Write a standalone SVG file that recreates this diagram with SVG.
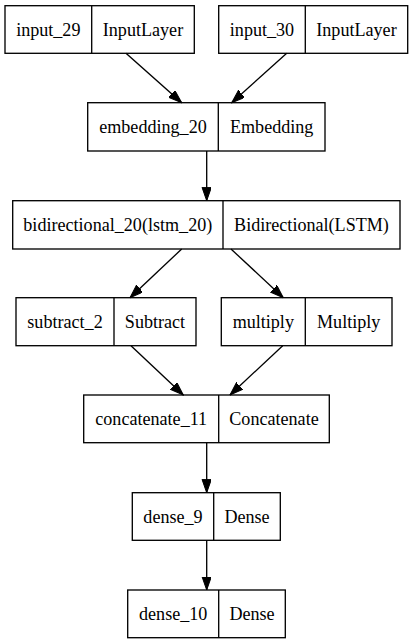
<svg xmlns="http://www.w3.org/2000/svg" width="413" height="644" viewBox="0 0 413 644">
<style>
.b{fill:none;stroke:#000;stroke-width:1.33}
.t{font-family:"Liberation Serif","Times New Roman",serif;font-size:18.1px;fill:#000;text-anchor:middle}
.e{fill:none;stroke:#000;stroke-width:1.33}
</style>
<defs>
<marker id="a" markerUnits="userSpaceOnUse" markerWidth="14" markerHeight="10" refX="13.3" refY="4.67" orient="auto" viewBox="0 0 14 10">
<path d="M0,0 L13.3,4.67 L0,9.33 z" fill="#000" stroke="#000" stroke-width="1"/>
</marker>
</defs>
<rect width="413" height="644" fill="#fff"/>
<g id="input_29">
<rect class="b" x="5" y="5.7" width="189.3" height="47.6"/>
<line class="b" x1="91.7" y1="5.7" x2="91.7" y2="53.3"/>
<text class="t" x="48.3" y="35.7">input_29</text>
<text class="t" x="143" y="35.7">InputLayer</text>
</g>
<g id="input_30">
<rect class="b" x="218.7" y="5.7" width="189" height="47.6"/>
<line class="b" x1="305.3" y1="5.7" x2="305.3" y2="53.3"/>
<text class="t" x="262" y="35.7">input_30</text>
<text class="t" x="356.5" y="35.7">InputLayer</text>
</g>
<g id="embedding_20">
<rect class="b" x="87.7" y="102.7" width="237.3" height="48.3"/>
<line class="b" x1="218.3" y1="102.7" x2="218.3" y2="151"/>
<text class="t" x="153" y="132.8">embedding_20</text>
<text class="t" x="271.7" y="132.8">Embedding</text>
</g>
<g id="bidirectional_20">
<rect class="b" x="12.7" y="200.7" width="387.3" height="48.3"/>
<line class="b" x1="223" y1="200.7" x2="223" y2="249"/>
<text class="t" x="117.8" y="230.8">bidirectional_20(lstm_20)</text>
<text class="t" x="311.5" y="230.8">Bidirectional(LSTM)</text>
</g>
<g id="subtract_2">
<rect class="b" x="16" y="297.7" width="180" height="48"/>
<line class="b" x1="114" y1="297.7" x2="114" y2="345.7"/>
<text class="t" x="65" y="327.7">subtract_2</text>
<text class="t" x="155" y="327.7">Subtract</text>
</g>
<g id="multiply">
<rect class="b" x="221.3" y="297.7" width="170.7" height="48"/>
<line class="b" x1="305.3" y1="297.7" x2="305.3" y2="345.7"/>
<text class="t" x="263.3" y="327.7">multiply</text>
<text class="t" x="348.7" y="327.7">Multiply</text>
</g>
<g id="concatenate_11">
<rect class="b" x="83.7" y="395" width="245.6" height="47.7"/>
<line class="b" x1="218.7" y1="395" x2="218.7" y2="442.7"/>
<text class="t" x="151.2" y="424.9">concatenate_11</text>
<text class="t" x="274" y="424.9">Concatenate</text>
</g>
<g id="dense_9">
<rect class="b" x="132.3" y="492.7" width="148" height="47.6"/>
<line class="b" x1="213.7" y1="492.7" x2="213.7" y2="540.3"/>
<text class="t" x="173" y="522.6">dense_9</text>
<text class="t" x="247" y="522.6">Dense</text>
</g>
<g id="dense_10">
<rect class="b" x="127.7" y="590" width="157.6" height="47.7"/>
<line class="b" x1="218.7" y1="590" x2="218.7" y2="637.7"/>
<text class="t" x="173.2" y="620">dense_10</text>
<text class="t" x="252" y="620">Dense</text>
</g>
<g id="edges">
<line class="e" x1="126" y1="53.3" x2="181.7" y2="102.7" marker-end="url(#a)"/>
<line class="e" x1="286.7" y1="53.3" x2="231.7" y2="102.7" marker-end="url(#a)"/>
<line class="e" x1="206.7" y1="151" x2="206.7" y2="200.7" marker-end="url(#a)"/>
<line class="e" x1="181.7" y1="249" x2="130" y2="297.7" marker-end="url(#a)"/>
<line class="e" x1="231" y1="249" x2="283.3" y2="297.7" marker-end="url(#a)"/>
<line class="e" x1="131" y1="345.7" x2="183.3" y2="395" marker-end="url(#a)"/>
<line class="e" x1="282.7" y1="345.7" x2="230" y2="395" marker-end="url(#a)"/>
<line class="e" x1="206.7" y1="442.7" x2="206.7" y2="492.7" marker-end="url(#a)"/>
<line class="e" x1="206.7" y1="540.3" x2="206.7" y2="590" marker-end="url(#a)"/>
</g>
</svg>
